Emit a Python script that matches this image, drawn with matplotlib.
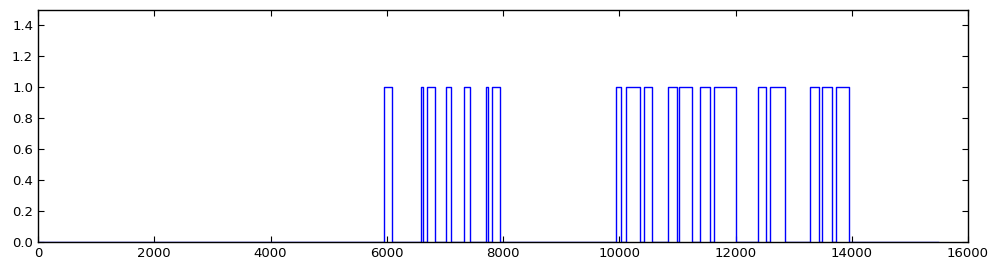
import numpy as np
import matplotlib
matplotlib.use("Agg")
import matplotlib.pyplot as plt

# pulse edges (sample index)
rise = [5960, 6590, 6690, 7015, 7325, 7705, 7805,
        9940, 10110, 10420, 10845, 11035, 11385, 11625,
        12395, 12600, 13275, 13490, 13725]
fall = [6090, 6620, 6835, 7100, 7435, 7735, 7945,
        10025, 10355, 10560, 10990, 11250, 11565, 12010,
        12525, 12850, 13430, 13655, 13950]
x_start = 0
x_end = 15480

# build the 0/1 step signal from the edges
xs = [x_start]
ys = [0]
for r, f in zip(rise, fall):
    xs += [r, r, f, f]
    ys += [0, 1, 1, 0]
xs.append(x_end)
ys.append(0)

fig = plt.figure(figsize=(9.99, 2.72), dpi=100)
ax = fig.add_axes([38 / 999, 30 / 272, 930 / 999, 232 / 272])
ax.plot(xs, ys, color='b', linewidth=1.0)

ax.set_xlim(0, 16000)
ax.set_ylim(0, 1.5)
ax.set_xticks(np.arange(0, 16001, 2000))
ax.set_yticks(np.arange(0, 1.41, 0.2))
ax.set_yticklabels(['0.0', '0.2', '0.4', '0.6', '0.8', '1.0', '1.2', '1.4'])
ax.tick_params(direction='in', top=True, right=True, length=4, labelsize=9.5)
for s in ax.spines.values():
    s.set_linewidth(1.0)

fig.savefig('out.png', dpi=100)
